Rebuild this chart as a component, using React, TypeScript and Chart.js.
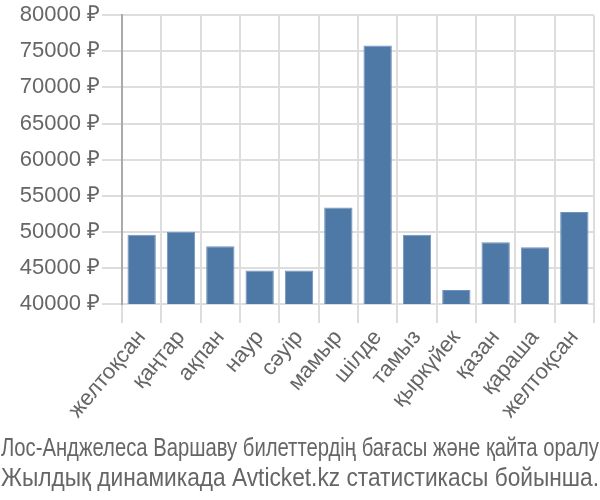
import React, { useEffect, useRef } from "react";
import { Chart, registerables } from "chart.js";

Chart.register(...registerables);

const categories = [
  "желтоқсан", "қаңтар", "ақпан", "наур", "сәуір", "мамыр",
  "шілде", "тамыз", "қыркүйек", "қазан", "қараша", "желтоқсан",
];
const prices = [49600, 50000, 48000, 44650, 44650, 53350, 75800, 49600, 41950, 48550, 47850, 52750];
const titleLines = [
  "Лос-Анджелеса Варшаву билеттердің бағасы және қайта оралу",
  "Жылдық динамикада Avticket.kz статистикасы бойынша.",
];
const yMin = 40000;
const yMax = 80000;
const yStep = 5000;

const TICK_FONT = "'Liberation Sans', Arial, sans-serif";

const bottomTitle = {
  id: "bottomTitle",
  afterDraw(chart: any) {
    const ctx = chart.ctx as CanvasRenderingContext2D;
    ctx.save();
    ctx.fillStyle = "#666";
    ctx.font = "25px 'Liberation Sans', Arial, sans-serif";
    ctx.textAlign = "center";
    ctx.textBaseline = "alphabetic";
    const baselines = [456, 486];
    titleLines.forEach((line, i) => {
      ctx.fillText(line, chart.width / 2, baselines[i], chart.width - 2);
    });
    ctx.restore();
  },
};

export default function App() {
  const ref = useRef<HTMLCanvasElement | null>(null);
  useEffect(() => {
    document.body.style.margin = "0";
    const ctx = ref.current!;
    const chart = new Chart(ctx, {
      type: "bar",
      data: {
        labels: categories,
        datasets: [
          {
            data: prices,
            backgroundColor: "#4e79a7",
            borderColor: "#6f93bb",
            borderWidth: 1,
          },
        ],
      },
      options: {
        animation: false,
        responsive: false,
        layout: { padding: { top: 0, right: 6, left: 0, bottom: 70 } },
        plugins: {
          legend: { display: false },
          tooltip: { enabled: false },
          title: { display: false },
        },
        scales: {
          x: {
            grid: { color: "#dddddd", lineWidth: 2, tickLength: 19, drawOnChartArea: true },
            border: { color: "#dddddd", width: 2 },
            afterFit: (scale: any) => {
              scale.height = 126;
            },
            ticks: {
              color: "#666",
              font: { family: TICK_FONT, size: 22 },
              maxRotation: 50,
              minRotation: 50,
              padding: 2,
            },
          },
          y: {
            min: yMin,
            max: yMax,
            grid: { color: "#dddddd", lineWidth: 2, tickLength: 20 },
            border: { color: "#aaaaaa", width: 2 },
            afterFit: (scale: any) => {
              scale.width = 122;
            },
            ticks: {
              stepSize: yStep,
              color: "#666",
              font: { family: TICK_FONT, size: 22 },
              padding: 2,
              callback: (v: any) => v + " ₽",
            },
          },
        },
      },
      plugins: [bottomTitle],
    });
    return () => chart.destroy();
  }, []);
  return (
    <div style={{ position: "absolute", left: 0, top: 0, width: 600, height: 500 }}>
      <canvas ref={ref} width={600} height={500} />
    </div>
  );
}
